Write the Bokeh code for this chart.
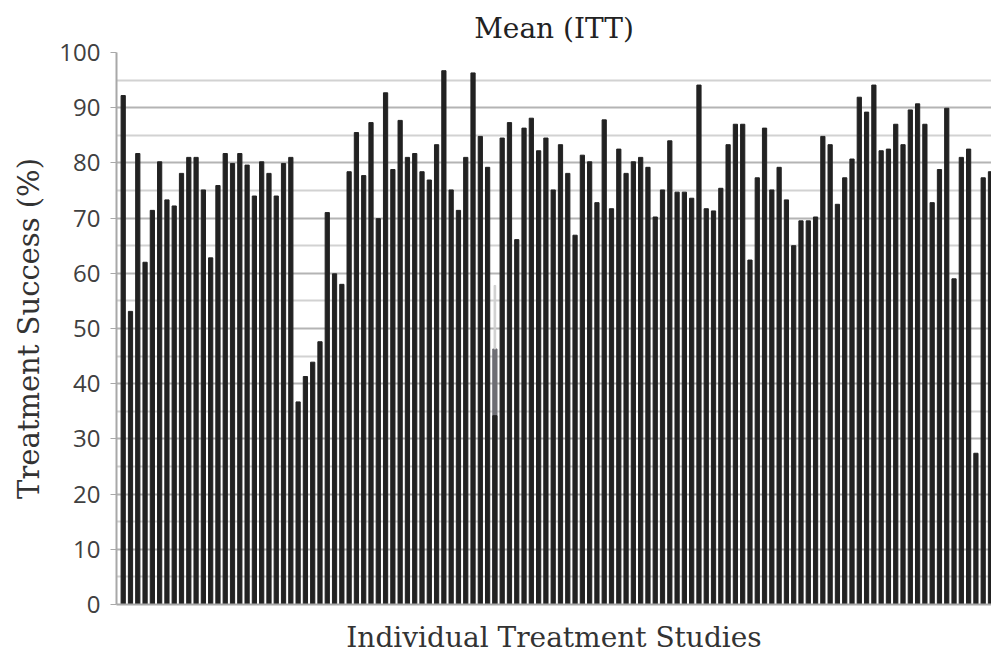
from bokeh.plotting import figure
from bokeh.models import FixedTicker, ColumnDataSource
from bokeh.embed import file_html
from bokeh.resources import INLINE

# ---- data ----
treatment_success = [
    92.2, 53.1, 81.7, 62.0, 71.4, 80.2, 73.3, 72.2, 78.1, 81.0,
    81.0, 75.1, 62.8, 75.9, 81.7, 79.9, 81.7, 79.6, 74.0, 80.2,
    78.1, 74.0, 79.9, 81.0, 36.7, 41.3, 43.9, 47.6, 71.0, 59.9,
    58.0, 78.4, 85.5, 77.7, 87.3, 69.9, 92.7, 78.8, 87.7, 81.0,
    81.7, 78.4, 76.9, 83.3, 96.7, 75.1, 71.4, 81.0, 96.3, 84.8,
    79.2, 46.3, 84.5, 87.3, 66.1, 86.3, 88.1, 82.2, 84.5, 75.1,
    83.3, 78.1, 66.9, 81.4, 80.2, 72.8, 87.8, 71.7, 82.5, 78.1,
    80.2, 81.0, 79.2, 70.2, 75.1, 84.0, 74.7, 74.7, 73.6, 94.1,
    71.7, 71.3, 75.4, 83.3, 87.0, 87.0, 62.4, 77.3, 86.3, 75.1,
    79.2, 73.3, 65.0, 69.5, 69.5, 70.2, 84.8, 83.3, 72.5, 77.3,
    80.7, 91.9, 89.2, 94.1, 82.2, 82.5, 87.0, 83.3, 89.6, 90.7,
    87.0, 72.8, 78.8, 89.9, 59.0, 81.0, 82.5, 27.4, 77.3, 78.4,
]
study = list(range(1, len(treatment_success) + 1))

# one study drawn as a grey composite bar in the reference
odd_study = [52]
odd_dark_top = [34.2]
odd_grey_top = [46.3]
odd_light_top = [57.8]

y_ticks = [0, 10, 20, 30, 40, 50, 60, 70, 80, 90, 100]
y_minor = [5, 15, 25, 35, 45, 55, 65, 75, 85, 95]

# ---- figure ----
p = figure(width=991, height=656, output_backend="svg", toolbar_location=None,
           x_range=(0.08, 120.14), y_range=(0, 100),
           min_border_left=116, min_border_right=0, min_border_top=52,
           min_border_bottom=52)

p.title.text = "Mean (ITT)"
p.title.align = "center"
p.title.text_font = "DejaVu Serif"
p.title.text_font_size = "28px"
p.title.text_font_style = "normal"
p.title.text_color = "#222222"
p.title.standoff = 16

p.outline_line_color = None
p.background_fill_color = "white"
p.border_fill_color = "white"

colors = ["#222222"] * len(study)
for s in odd_study:
    colors[s - 1] = "#6e6e74"
src = ColumnDataSource(dict(x=study, top=treatment_success, color=colors))
p.vbar(x="x", top="top", width=0.58, color="color", source=src)

# composite parts of the odd study
p.vbar(x=odd_study, bottom=0, top=odd_dark_top, width=0.58, color="#222222")
p.vbar(x=odd_study, bottom=odd_grey_top, top=odd_light_top, width=0.22, color="#cfcfcf")

# grid
p.xgrid.visible = False
p.ygrid.grid_line_color = "#b4b4b4"
p.ygrid.grid_line_width = 2
p.ygrid.minor_grid_line_color = "#d2d2d2"
p.ygrid.minor_grid_line_width = 2

# y axis
p.yaxis.ticker = FixedTicker(ticks=y_ticks, minor_ticks=y_minor)
p.yaxis.axis_label = "Treatment Success (%)"
p.yaxis.axis_label_text_font = "DejaVu Serif"
p.yaxis.axis_label_text_font_size = "29px"
p.yaxis.axis_label_text_font_style = "normal"
p.yaxis.axis_label_text_color = "#333333"
p.yaxis.axis_label_standoff = 10
p.yaxis.major_label_text_font = "Open Sans"
p.yaxis.major_label_text_font_size = "24px"
p.yaxis.major_label_text_color = "#404040"
p.yaxis.major_label_standoff = 10
p.yaxis.axis_line_color = "#a8a8a8"
p.yaxis.axis_line_width = 2
p.yaxis.major_tick_line_color = "#a8a8a8"
p.yaxis.major_tick_out = 6
p.yaxis.major_tick_in = 0
p.yaxis.minor_tick_line_color = None

# x axis
p.xaxis.ticker = FixedTicker(ticks=[])
p.xaxis.axis_label = "Individual Treatment Studies"
p.xaxis.axis_label_text_font = "DejaVu Serif"
p.xaxis.axis_label_text_font_size = "28px"
p.xaxis.axis_label_text_font_style = "normal"
p.xaxis.axis_label_text_color = "#333333"
p.xaxis.axis_label_standoff = 16
p.xaxis.axis_line_color = "#a8a8a8"
p.xaxis.axis_line_width = 2
p.xaxis.major_tick_line_color = None
p.xaxis.minor_tick_line_color = None

open("out.html", "w").write(file_html(p, INLINE))
